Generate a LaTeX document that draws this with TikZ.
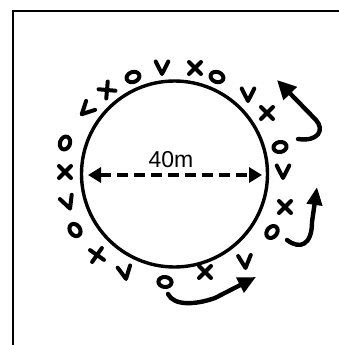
\documentclass[tikz,border=0pt]{standalone}
\usepackage{fontspec}
\setmainfont{Liberation Sans}
\usetikzlibrary{arrows.meta}
\begin{document}
\begin{tikzpicture}[x=1pt,y=-1pt,
  symline/.style={line width=4pt,line cap=round,line join=round},
  frameline/.style={line width=2.4pt},
  bigarrow/.style={line width=4.4pt,line cap=round},
  pics/xm/.default=0,
  pics/om/.default=0,
  pics/vm/.default=0,
  pics/xm/.style={code={\draw[symline,rotate=#1] (-6,-6)--(6,6) (-6,6)--(6,-6);}},
  pics/om/.style={code={\draw[symline,rotate=#1] (0,0) ellipse [x radius=6.6pt, y radius=5pt];}},
  pics/vm/.style={code={\draw[symline,rotate=#1] (-6.3,-6.5)--(0,6)--(6.3,-6.5);}},
]
\useasboundingbox (0,0) rectangle (339,345);
% frame
\coordinate (fa) at (13,345);
\coordinate (fb) at (13,11);
\coordinate (fc) at (339,11);
\draw[frameline] (fa) -- (fb) -- (fc);
% circle
\node[circle,draw,line width=3.4pt,minimum size=186pt,inner sep=0pt,outer sep=0pt] (ring) at (174.5,174) {};
% diameter arrow
\coordinate (dl) at (88,175);
\coordinate (dr) at (262,175);
\draw[line width=3.4pt,dash pattern=on 11pt off 6pt,
  {Triangle[length=13pt,width=15pt]}-{Triangle[length=13pt,width=15pt]}] (dl) -- (dr);
\node (lbl) at (171,160) {\fontsize{23}{27}\selectfont 40m};
% players
\pic at (65,143) {om=70};
\pic at (65,172) {xm=0};
\pic at (68,203) {vm=20};
\pic at (75,230) {om=-55};
\pic at (97,255) {xm=10};
\pic at (125,273) {vm=10};
\pic at (165,282) {om=-5};
\pic at (205,272) {xm=0};
\pic at (245,262) {vm=5};
\pic at (272,232) {om=50};
\pic at (285,207) {xm=0};
\pic at (283,172) {vm=0};
\pic at (280,147) {om=10};
\pic at (267,113) {xm=0};
\pic at (248,95) {vm=0};
\pic at (217,77) {om=-20};
\pic at (195,68) {xm=0};
\pic at (162,68) {vm=0};
\pic at (133,77) {om=20};
\pic at (107,90) {xm=40};
\pic at (86,110) {vm=-45};
% curved arrows
\coordinate (a1s) at (298,139);
\coordinate (a1m) at (316,120);
\coordinate (a1e) at (277,80);
\draw[bigarrow,-{Triangle[length=19pt,width=18pt]}] (a1s) .. controls (318,142) and (325,130) .. (a1m) -- (a1e);
\coordinate (a2s) at (287,240);
\coordinate (a2m) at (312,222);
\coordinate (a2e) at (317,187);
\draw[bigarrow,-{Triangle[length=18pt,width=15pt]}] (a2s) .. controls (300,250) and (312,245) .. (a2m) -- (a2e);
\coordinate (a3s) at (168,294);
\coordinate (a3m) at (215,298);
\coordinate (a3e) at (256,277);
\draw[bigarrow,-{Triangle[length=18pt,width=16pt]}] (a3s) .. controls (174,306) and (195,305) .. (a3m) -- (a3e);
\end{tikzpicture}
\end{document}
